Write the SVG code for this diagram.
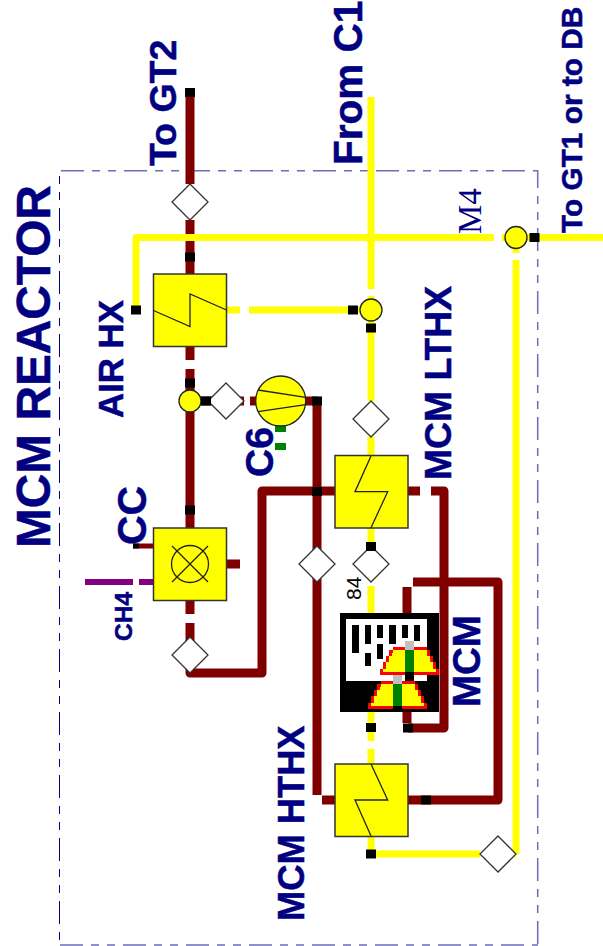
<svg xmlns="http://www.w3.org/2000/svg" width="603" height="946" viewBox="0 0 603 946">
<style>
text{font-family:"Liberation Sans",Arial,sans-serif;font-weight:bold;fill:#000080;stroke:#000080;stroke-width:.5}
.y{fill:none;stroke:#ff0;stroke-width:7;stroke-linejoin:round}
.d{fill:none;stroke:#800000;stroke-width:9;stroke-linejoin:round}
.p{fill:none;stroke:#800080;stroke-width:6}
.box{fill:#ff0;stroke:#333;stroke-width:1.5}
.zz{fill:none;stroke:#222;stroke-width:1.3}
.dia{fill:#fff;stroke:#333;stroke-width:1.3}
.j{fill:#ff0;stroke:#222;stroke-width:1.3}
.k{fill:#000}
.g{fill:#008000}
.b{fill:none;stroke:#6c6cb8;stroke-width:1.500;stroke-dasharray:23 8 8 8 8 8}
</style>
<defs>
<polygon id="dm" class="dia" points="0,-18 18,0 0,18 -18,0"/>
<circle id="jn" class="j" r="11"/>
<rect id="bk" class="k" x="-5" y="-4.5" width="10" height="9"/>
<polygon id="fan" points="39,0 141,0 141,9 150,9 150,27 159,27 159,45 168,45 168,66 177,66 177,84 0,84 0,66 9,66 9,45 18,45 18,27 27,27 27,9 39,9" fill="#f00"/>
<polygon id="fani" points="39,9 141,9 141,18 141,27 150,27 150,45 159,45 159,66 168,66 168,75 9,75 9,66 18,66 18,45 27,45 27,27 36,27 36,18 39,18" fill="#ff0"/>
</defs>
<g id="boundary">
<path class="b" d="M61 170.700H538"/>
<path class="b" d="M537.700 170V945" style="stroke-dashoffset:5"/>
<path class="b" d="M60 945H538"/>
<path class="b" d="M59.500 171V945" style="stroke:#000080;stroke-width:1;stroke-dashoffset:26"/>
</g>
<g id="connectors">
<path class="d" d="M190 92V184M190 220V360M190 369V424M190 412V390"/>
<path class="d" d="M190 424V528M190 600V614M190 623V655"/>
<path class="d" d="M190 655V673H262V491H335"/>
<path class="d" d="M190 401H244M250 401H258"/>
<path class="d" d="M305 401H317V795"/>
<path class="d" d="M322 800H335M408 800H498V582H413"/>
<path class="d" d="M408 491H420M431 491H444V728H408"/>
<path class="d" d="M407 587V723"/>
<path class="d" d="M226 564H240"/>
<path d="M133 546H153" fill="none" stroke="#800000" stroke-width="5"/>
<path class="p" d="M85 582H133M139 582H153"/>
<path class="y" d="M139 310H136V237.500H494M502 237.500H505M527 237.500H604"/>
<path class="y" d="M226 310H240M249 310H360"/>
<path class="y" d="M371 97V289M371 296V401M371 437V441M371 441V455M371 528V546M371 586V613M371 712V741M371 749V764M371 836V854H480M516 854H516V260M516 854H498"/>
<path class="y" d="M516 253V249"/>
</g>
<g id="air-hx">
<rect class="box" x="153.500" y="274" width="73" height="72.500"/>
<path class="zz" d="M153.500 310.500 190 326.500V294L226.500 310"/>
</g>
<g id="cc">
<rect class="box" x="153.500" y="528" width="73" height="72.500"/>
<circle cx="190" cy="564" r="18.500" fill="none" stroke="#222" stroke-width="1.300"/>
<path class="zz" d="M172 546 208 582M208 546 172 582"/>
</g>
<g id="lthx">
<rect class="box" x="335" y="455.500" width="73" height="72.500"/>
<path class="zz" d="M371 456 355 491.700H387.700L371 527.700"/>
</g>
<g id="hthx">
<rect class="box" x="335" y="764" width="73" height="72.500"/>
<path class="zz" d="M371 764 387.700 800H355L371 836"/>
</g>
<g id="c6">
<rect class="g" x="275" y="426" width="11" height="6"/>
<rect class="g" x="275" y="443" width="11" height="7"/>
<circle class="j" cx="280.700" cy="401" r="25"/>
<path class="zz" d="M258 390 305.700 397.300M258 411.700 305.700 404.700"/>
</g>
<g id="valves">
<use href="#dm" x="190" y="202"/>
<use href="#dm" x="226" y="401"/>
<use href="#dm" x="190" y="655"/>
<use href="#dm" x="317" y="564"/>
<use href="#dm" x="371" y="419"/>
<use href="#dm" x="371" y="564"/>
<use href="#dm" x="498" y="854"/>
</g>
<g id="junctions">
<use href="#jn" x="190" y="401"/>
<use href="#jn" x="371" y="310"/>
<use href="#jn" x="516" y="237.500"/>
</g>
<g id="markers">
<use href="#bk" x="190" y="92.500"/>
<use href="#bk" x="190" y="257"/>
<use href="#bk" x="190" y="383"/>
<use href="#bk" x="190" y="510"/>
<use href="#bk" x="206" y="401"/>
<use href="#bk" x="317" y="401"/>
<use href="#bk" x="317" y="491.500"/>
<use href="#bk" x="136" y="310"/>
<use href="#bk" x="353" y="310"/>
<use href="#bk" x="371" y="328"/>
<use href="#bk" x="534.500" y="237.500"/>
<use href="#bk" x="371" y="546.500"/>
<use href="#bk" x="371" y="727.500"/>
<use href="#bk" x="408" y="728"/>
<use href="#bk" x="426" y="800"/>
<use href="#bk" x="371" y="854"/>
<rect class="k" x="133" y="543.500" width="6" height="5"/>
</g>
<g id="mcm">
<rect class="k" x="340" y="613" width="99" height="99"/>
<rect x="346" y="619" width="81" height="62" fill="#fff"/>
<path class="k" d="M352 625h7v28h-7zM365 625h6v19h-6zM365 653h6v13h-6zM377 625h6v13h-6zM377 644h6v15h-6zM389 625h7v19h-7zM402 625h6v13h-6zM414 625h6v16h-6z"/>
<g transform="translate(320 560) scale(.33333)">
<g transform="translate(180 261)"><use href="#fan"/><use href="#fani"/></g>
<rect x="255" y="243" width="27" height="27" fill="#c0c0c0"/>
<rect class="g" x="255" y="270" width="27" height="66"/>
<rect class="k" x="255" y="336" width="27" height="27"/>
<g transform="translate(144 363)"><use href="#fan"/><use href="#fani"/></g>
<rect x="219" y="345" width="27" height="27" fill="#c0c0c0"/>
<rect class="g" x="219" y="372" width="27" height="66"/>
<rect class="k" x="219" y="438" width="27" height="9"/>
</g>
</g>
<g id="labels">
<text transform="translate(50 548) rotate(-90)" font-size="47.800">MCM REACTOR</text>
<text transform="translate(176 166) rotate(-90)" font-size="37.500">To GT2</text>
<text transform="translate(362 165) rotate(-90)" font-size="40.500">From C1</text>
<text transform="translate(582 233) rotate(-90)" font-size="29.800">To GT1 or to DB</text>
<text transform="translate(123 418) rotate(-90)" font-size="34.800">AIR HX</text>
<text transform="translate(273 477) rotate(-90)" font-size="39">C6</text>
<text transform="translate(146 545) rotate(-90)" font-size="41">CC</text>
<text transform="translate(132 641) rotate(-90)" font-size="24.500">CH4</text>
<text transform="translate(451 480) rotate(-90)" font-size="37.300">MCM LTHX</text>
<text transform="translate(480 707) rotate(-90)" font-size="38.500">MCM</text>
<text transform="translate(304 921) rotate(-90)" font-size="36.300">MCM HTHX</text>
<text transform="translate(361 600) rotate(-90)" font-size="21" style="font-weight:normal;fill:#000;stroke:none">84</text>
<text transform="translate(481 234) rotate(-90)" font-size="33" style="font-family:'Liberation Serif',serif;font-weight:normal;stroke:none">M4</text>
</g>
</svg>
